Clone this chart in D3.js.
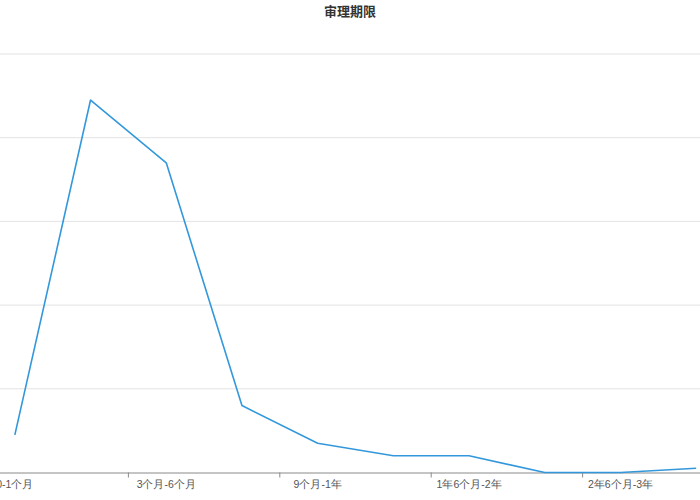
<!DOCTYPE html>
<html>
<head>
<meta charset="utf-8">
<script src="https://cdn.jsdelivr.net/npm/d3@7/dist/d3.min.js"></script>
<style>
  body { margin: 0; background: #fff; }
  svg { display: block; font-family: "Noto Sans CJK SC", "Noto Sans", sans-serif; }
</style>
</head>
<body>
<div id="chart"></div>
<script>
var title = "审理期限";

var categories = ["0-1个月", "1个月-3个月", "3个月-6个月", "6个月-9个月", "9个月-1年",
    "1年-1年6个月", "1年6个月-2年", "2年-2年6个月", "2年6个月-3年", "3年以上"];

var values = [9, 89, 74, 16, 7, 4, 4, 0, 0, 1];

var yTicks = [0, 20, 40, 60, 80, 100];

var width = 700,
    height = 500;

// the plot area runs past both edges of the picture
var plot = { left: -23, right: 734, top: 54, bottom: 472.5 };

var svg = d3.select("#chart")
    .append("svg")
    .attr("width", width)
    .attr("height", height);

var x = d3.scaleBand()
    .domain(categories)
    .range([plot.left, plot.right]);

var y = d3.scaleLinear()
    .domain([0, 100])
    .range([plot.bottom, plot.top]);

// grid lines
svg.append("g")
    .selectAll("line")
    .data(yTicks.slice(1))
    .enter()
    .append("line")
    .attr("x1", plot.left)
    .attr("x2", plot.right)
    .attr("y1", function (d) { return y(d); })
    .attr("y2", function (d) { return y(d); })
    .style("stroke", "#e3e3e3")
    .style("stroke-width", 1);

// x axis, every other label shown
var xAxis = d3.axisBottom(x)
    .tickSize(0)
    .tickFormat(function (d, i) { return i % 2 === 0 ? d : ""; });

var gx = svg.append("g")
    .attr("transform", "translate(0," + plot.bottom + ")")
    .call(xAxis);

gx.select(".domain").style("stroke", "#8a8a8a");
gx.selectAll("text")
    .attr("y", 8)
    .attr("dy", "0.71em")
    .style("font-size", "10.5px")
    .style("fill", "#555");

// ticks at the left edge of each labelled band
svg.append("g")
    .selectAll("line")
    .data(categories.filter(function (d, i) { return i % 2 === 0; }))
    .enter()
    .append("line")
    .attr("x1", function (d) { return x(d); })
    .attr("x2", function (d) { return x(d); })
    .attr("y1", plot.bottom)
    .attr("y2", plot.bottom + 5)
    .style("stroke", "#8a8a8a");

var line = d3.line()
    .x(function (d, i) { return x(categories[i]) + x.bandwidth() / 2; })
    .y(function (d) { return y(d); });

svg.append("path")
    .datum(values)
    .attr("d", line)
    .style("fill", "none")
    .style("stroke", "#3398DB")
    .style("stroke-width", 1.6)
    .style("stroke-linejoin", "round");

svg.append("text")
    .attr("x", width / 2)
    .attr("y", 16)
    .attr("text-anchor", "middle")
    .style("font-size", "13px")
    .style("font-weight", "bold")
    .style("fill", "#333")
    .text(title);
</script>
</body>
</html>
